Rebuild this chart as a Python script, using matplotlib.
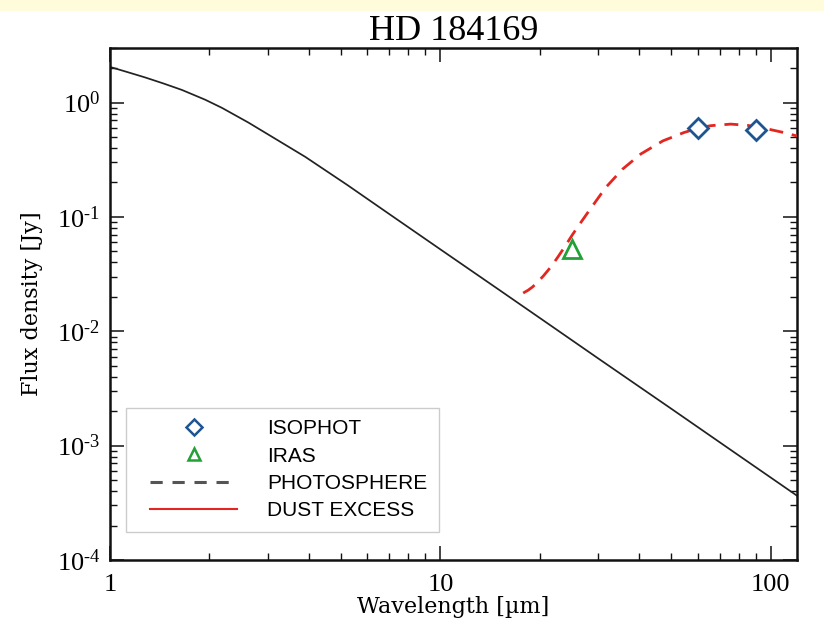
import matplotlib
matplotlib.use("Agg")
import matplotlib.pyplot as plt
from matplotlib.lines import Line2D
from matplotlib.patches import Rectangle
from matplotlib.legend_handler import HandlerLine2D
from matplotlib.ticker import LogLocator, FixedLocator, FixedFormatter, NullFormatter

# ---- data ----
phot_wl = [1.0, 1.12, 1.276, 1.45, 1.65, 1.94, 2.18, 2.62, 3.1, 3.9, 5.23, 7.0, 10.0, 15.0,
           21.5, 30.0, 50.0, 80.0, 120.0]
phot_flux = [2.05, 1.86, 1.66, 1.47, 1.29, 1.06, 0.90, 0.67, 0.50, 0.335, 0.19, 0.106, 0.052,
             0.0232, 0.0113, 0.0058, 0.0021, 8.2e-4, 3.65e-4]

dust_wl = [17.8, 18.4, 19.0, 19.7, 20.5, 21.5, 22.6, 23.8, 25.1, 26.5, 28.1, 31.6, 35.6,
           40.4, 47.1, 54.5, 60.5, 65.8, 75.6, 85.0, 98.0, 110.0, 120.0]
dust_flux = [0.0216, 0.0228, 0.0244, 0.0270, 0.0305, 0.0360, 0.0440, 0.0550, 0.0700,
             0.0880, 0.112, 0.180, 0.262, 0.355, 0.462, 0.546, 0.600, 0.628, 0.648, 0.632,
             0.587, 0.545, 0.51]

iso_wl = [60.0, 90.0]
iso_flux = [0.60, 0.58]
iras_wl = [25.0]
iras_flux = [0.052]

legend_labels = ["ISOPHOT", "IRAS", "PHOTOSPHERE", "DUST EXCESS"]
xtick_vals = [1, 10, 100]
xtick_labels = ["1", "10", "100"]
ytick_vals = [1e-4, 1e-3, 1e-2, 1e-1, 1e0]
ytick_labels = ["$\\mathregular{10^{\u20104}}$", "$\\mathregular{10^{\u20103}}$",
                "$\\mathregular{10^{\u20102}}$", "$\\mathregular{10^{\u20101}}$",
                "$\\mathregular{10^{0}}$"]

plt.rcParams['font.family'] = ['Liberation Serif', 'DejaVu Serif']
plt.rcParams['mathtext.fontset'] = 'custom'
plt.rcParams['mathtext.rm'] = 'Liberation Serif'


class ShiftedHandler(HandlerLine2D):
    """Legend handle whose drawn line starts a little to the right of the handle box."""
    def create_artists(self, legend, orig_handle, xdescent, ydescent, width, height,
                       fontsize, trans):
        s = 0.13 * width
        return super().create_artists(legend, orig_handle, xdescent - s, ydescent,
                                      width - s, height, fontsize, trans)


fig = plt.figure(figsize=(8.24, 6.36), dpi=100)
fig.patches.append(Rectangle((0, 1 - 11 / 636), 1, 11 / 636, transform=fig.transFigure,
                             facecolor='#fffcdc', edgecolor='none', zorder=-10))
ax = fig.add_axes([110 / 824, 1 - 560 / 636, 687 / 824, 512 / 636])

blue = '#1d5591'
green = '#22a236'
red = '#e3261f'

ax.plot(phot_wl, phot_flux, color='#222222', lw=1.25, zorder=2)
ax.plot(dust_wl, dust_flux, color=red, lw=2.0, dashes=(5.0, 3.2), zorder=3)
ax.plot(iso_wl, iso_flux, linestyle='none', marker='D', ms=10.5, mfc='white', mec=blue, mew=2.0, zorder=4)
ax.plot(iras_wl, iras_flux, linestyle='none', marker='^', ms=13, mfc='none', mec=green, mew=2.0, zorder=4)

ax.set_xscale('log')
ax.set_yscale('log')
ax.set_xlim(1, 120)
ax.set_ylim(1e-4, 3.0)

ax.xaxis.set_major_locator(FixedLocator(xtick_vals))
ax.xaxis.set_major_formatter(FixedFormatter(xtick_labels))
ax.yaxis.set_major_locator(FixedLocator(ytick_vals))
ax.yaxis.set_major_formatter(FixedFormatter(ytick_labels))
ax.xaxis.set_minor_locator(LogLocator(base=10, subs=range(2, 10), numticks=20))
ax.yaxis.set_minor_locator(LogLocator(base=10, subs=range(2, 10), numticks=20))
ax.xaxis.set_minor_formatter(NullFormatter())
ax.yaxis.set_minor_formatter(NullFormatter())

ax.tick_params(which='both', direction='in', top=True, right=True, color='#111111')
ax.tick_params(which='major', length=10, width=1.1, labelsize=19)
ax.tick_params(which='minor', length=5, width=1.0)
ax.tick_params(axis='x', which='major', pad=10)
ax.tick_params(axis='y', which='major', pad=7)
for s in ax.spines.values():
    s.set_linewidth(1.8)
    s.set_color('#111111')

ax.set_xlabel("Wavelength [µm]", fontsize=16, family='DejaVu Serif', labelpad=0)
ax.set_ylabel("Flux density [Jy]", fontsize=16, family='DejaVu Serif', labelpad=10)
ax.set_title("HD 184169", fontsize=26, family='Liberation Serif', pad=5)

handles = [
    Line2D([], [], linestyle='none', marker='D', ms=8, mfc='white', mec=blue, mew=1.8),
    Line2D([], [], linestyle='none', marker='^', ms=9, mfc='none', mec=green, mew=1.8),
    Line2D([], [], color='#555555', lw=2.2, dashes=(4, 3.2)),
    Line2D([], [], color=red, lw=1.5),
]
leg = ax.legend(handles, legend_labels, loc='lower left', bbox_to_anchor=(0.023, 0.055),
                prop={'family': 'Liberation Sans', 'size': 15}, frameon=True, fancybox=False,
                edgecolor='#c0c0c0', handlelength=4.8, handletextpad=1.45, labelspacing=0.4,
                borderpad=0.55, borderaxespad=0,
                handler_map={Line2D: ShiftedHandler()})
leg.get_frame().set_linewidth(1.0)

fig.savefig('out.png', dpi=100)
